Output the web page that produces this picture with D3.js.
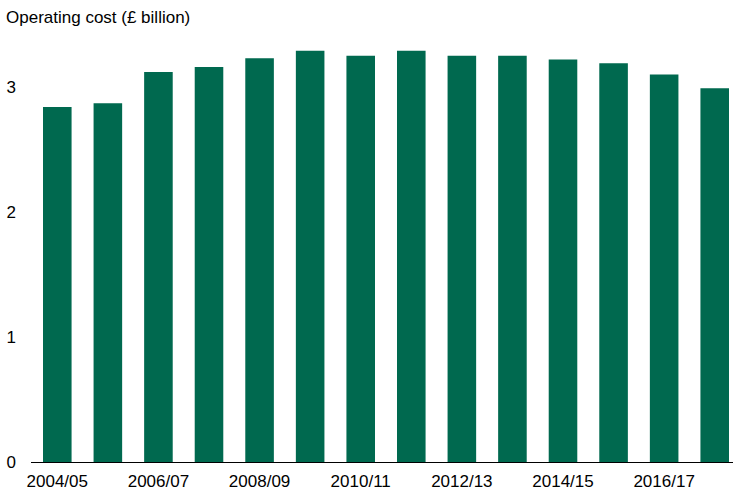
<!DOCTYPE html>
<meta charset="utf-8">
<title>Operating cost</title>
<script src="https://cdn.jsdelivr.net/npm/d3@7"></script>
<style>
  body { margin: 0; background: #fff; }
  text { font-family: "Liberation Sans", Arial, sans-serif; fill: #000; }
</style>
<body>
<script>

var years = ["2004/05","2005/06","2006/07","2007/08","2008/09","2009/10","2010/11",
             "2011/12","2012/13","2013/14","2014/15","2015/16","2016/17","2017/18"];
var cost = [2.84, 2.87, 3.12, 3.16, 3.23, 3.29, 3.25, 3.29, 3.25, 3.25, 3.22, 3.19, 3.10, 2.99];
var yTicks = [0, 1, 2, 3];

var w = 733, h = 490;
var svg = d3.select("body").append("svg")
  .attr("width", w)
  .attr("height", h);

var x = d3.scaleBand()
  .domain(years)
  .range([32, 740])
  .paddingInner(0.435)
  .paddingOuter(0.2175);

var y = d3.scaleLinear()
  .domain([0, 3])
  .range([462, 87]);

svg.append("text")
  .attr("x", 6)
  .attr("y", 23)
  .style("font-size", "17px")
  .text("Operating cost (£ billion)");

svg.selectAll(".bar")
  .data(cost)
  .enter().append("rect")
  .attr("class", "bar")
  .attr("x", function (d, i) { return x(years[i]); })
  .attr("width", x.bandwidth())
  .attr("y", function (d) { return y(d); })
  .attr("height", function (d) { return y(0) - y(d); })
  .attr("fill", "#00694f");

// y labels, no tick marks
svg.selectAll(".ylab")
  .data(yTicks)
  .enter().append("text")
  .attr("class", "ylab")
  .attr("x", 16)
  .attr("y", function (d) { return y(d); })
  .attr("dy", "0.35em")
  .attr("text-anchor", "end")
  .style("font-size", "17px")
  .text(function (d) { return d; });

// baseline
svg.append("line")
  .attr("x1", 31).attr("x2", 733)
  .attr("y1", y(0) + 0.5).attr("y2", y(0) + 0.5)
  .attr("stroke", "#000")
  .attr("stroke-width", 1);

// every other year labelled
svg.selectAll(".xlab")
  .data(years.filter(function (d, i) { return i % 2 === 0; }))
  .enter().append("text")
  .attr("class", "xlab")
  .attr("x", function (d) { return x(d) + x.bandwidth() / 2; })
  .attr("y", 487)
  .attr("text-anchor", "middle")
  .style("font-size", "17px")
  .text(function (d) { return d; });

</script>
